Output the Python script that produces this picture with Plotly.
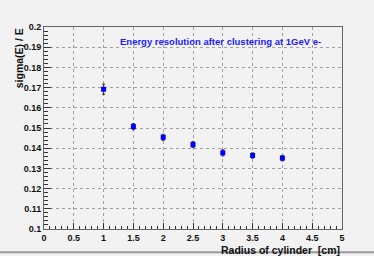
import plotly.graph_objects as go

radius = [1.0, 1.5, 2.0, 2.5, 3.0, 3.5, 4.0]
resolution = [0.1692, 0.1507, 0.1454, 0.1418, 0.1377, 0.1364, 0.1351]
res_err = [0.0025, 0.0015, 0.0015, 0.0015, 0.0015, 0.0013, 0.0013]
x_ticks = [0, 0.5, 1, 1.5, 2, 2.5, 3, 3.5, 4, 4.5, 5]
x_labels = ["0", "0.5", "1", "1.5", "2", "2.5", "3", "3.5", "4", "4.5", "5"]
y_ticks = [0.1, 0.11, 0.12, 0.13, 0.14, 0.15, 0.16, 0.17, 0.18, 0.19, 0.2]
y_labels = ["0.1", "0.11", "0.12", "0.13", "0.14", "0.15", "0.16", "0.17", "0.18", "0.19", "0.2"]
title_text = "Energy resolution after clustering at 1GeV e-"
x_title = "Radius of cylinder  [cm]"
y_title = "sigma(E) / E"

BG = "#f2f2f2"
FONT = "Liberation Sans"

fig = go.Figure()
fig.add_trace(go.Scatter(
    x=radius, y=resolution, mode="markers",
    marker=dict(symbol="square", size=5, color="#0000ff", line=dict(width=0)),
    error_y=dict(type="data", array=res_err, visible=True, color="#333333",
                 thickness=1, width=1.5),
    showlegend=False, hoverinfo="skip",
))

axis_common = dict(
    showline=True, linecolor="#666666", linewidth=1, mirror=True,
    ticks="inside", tickcolor="#333333", tickwidth=1,
    showgrid=True, gridcolor="#a0a0a0", griddash="dot", gridwidth=1,
    zeroline=False,
    tickfont=dict(family=FONT, size=9, color="#111111"),
)

fig.update_xaxes(
    range=[0, 5], tickmode="array", tickvals=x_ticks,
    ticktext=["<b>%s</b>" % t for t in x_labels],
    ticklen=6,
    minor=dict(dtick=0.1, ticks="inside", ticklen=3, tickcolor="#333333", showgrid=False),
    **axis_common,
)
fig.update_yaxes(
    range=[0.1, 0.2], tickmode="array", tickvals=y_ticks,
    ticktext=["<b>%s</b>" % t for t in y_labels],
    ticklen=7,
    minor=dict(dtick=0.002, ticks="inside", ticklen=4, tickcolor="#333333", showgrid=False),
    **axis_common,
)

fig.add_annotation(
    x=2.96, y=0.1929, xref="x", yref="y", text="<b>%s</b>" % title_text, showarrow=False,
    font=dict(family=FONT, size=9.5, color="#1a1aff"),
)
fig.add_annotation(
    x=1.0, y=-0.062, xref="paper", yref="paper", text="<b>%s</b>" % x_title, showarrow=False,
    xanchor="right", yanchor="top",
    font=dict(family=FONT, size=10.5, color="#111111"),
)
fig.add_annotation(
    x=-0.083, y=1.005, xref="paper", yref="paper", text="<b>%s</b>" % y_title, showarrow=False,
    xanchor="center", yanchor="top", textangle=-90,
    font=dict(family=FONT, size=10.5, color="#111111"),
)
fig.add_shape(type="line", xref="paper", yref="paper",
              x0=-0.2, x1=1.2, y0=-0.115, y1=-0.115,
              line=dict(color="#999999", width=2))

fig.update_layout(
    width=374, height=256,
    margin=dict(l=44, r=32, t=27, b=27),
    paper_bgcolor=BG, plot_bgcolor=BG,
    font=dict(family=FONT),
    hovermode=False,
)

fig.write_html("out.html", config={"displayModeBar": False},
               post_script="document.body.style.margin='0';document.body.style.overflow='hidden';")
